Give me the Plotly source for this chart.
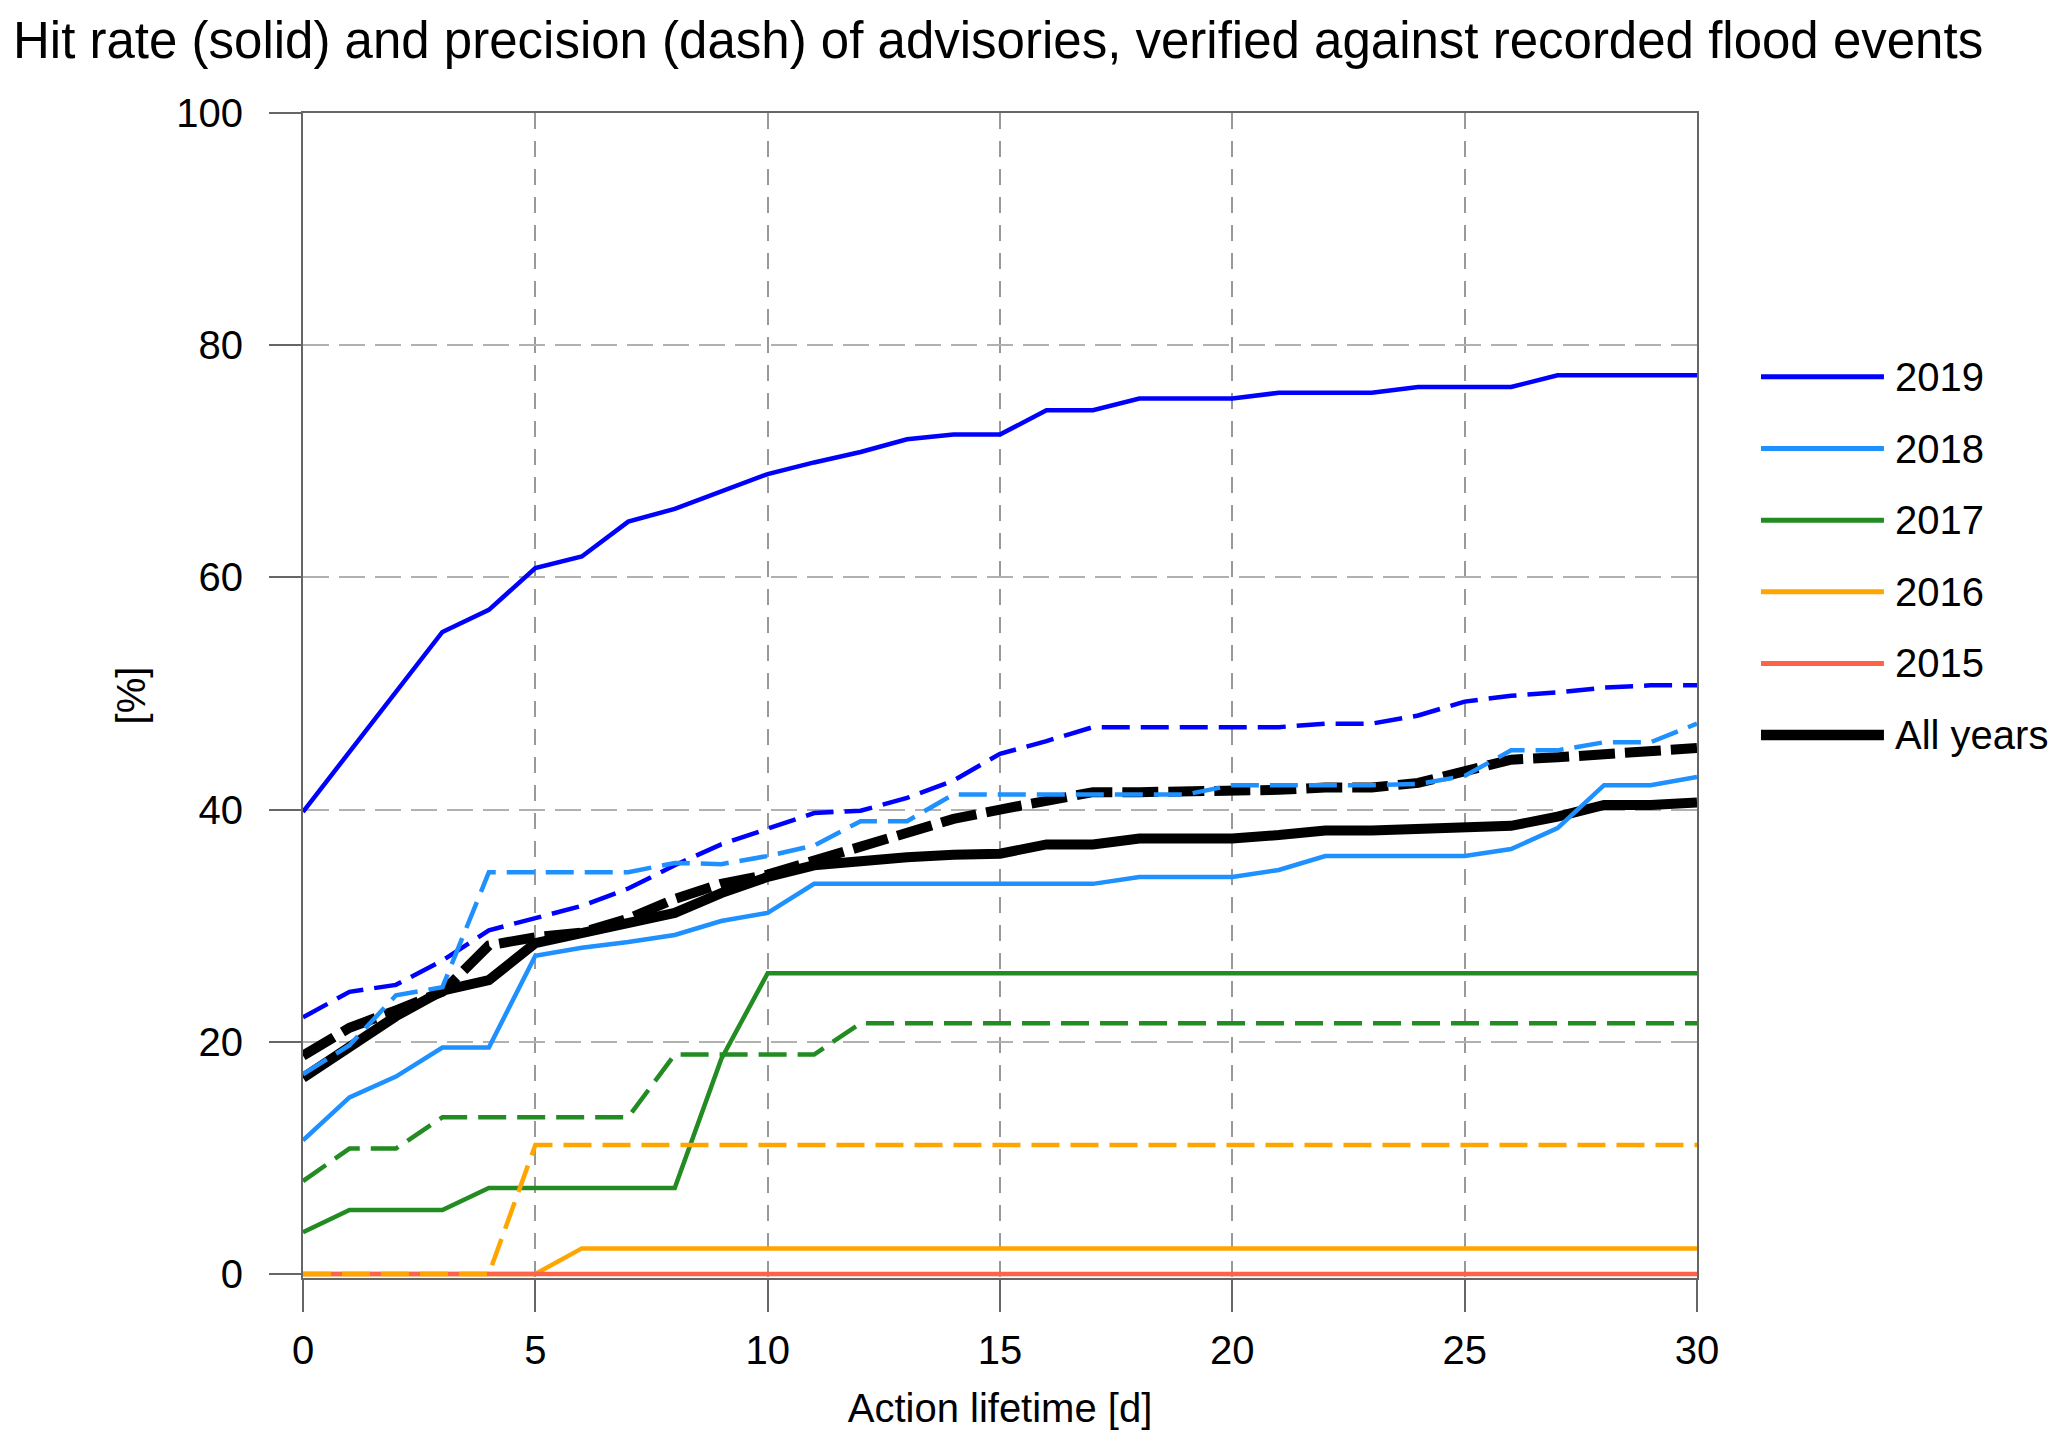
import plotly.graph_objects as go

# ---------------- data ----------------
days = [0, 1, 2, 3, 4, 5, 6, 7, 8, 9, 10, 11, 12, 13, 14, 15, 16, 17, 18, 19, 20,
        21, 22, 23, 24, 25, 26, 27, 28, 29, 30]

hit_2019 = [39.8, 45.0, 50.2, 55.3, 57.2, 60.8, 61.8, 64.8, 65.9, 67.4, 68.9, 69.9, 70.8, 71.9, 72.3,
            72.3, 74.4, 74.4, 75.4, 75.4, 75.4, 75.9, 75.9, 75.9, 76.4, 76.4, 76.4, 77.4, 77.4, 77.4, 77.4]
prec_2019 = [22.1, 24.3, 24.9, 27.0, 29.6, 30.7, 31.7, 33.2, 35.2, 37.0, 38.3, 39.7, 39.9, 41.0, 42.5,
             44.8, 45.9, 47.1, 47.1, 47.1, 47.1, 47.1, 47.4, 47.4, 48.1, 49.3, 49.8, 50.1, 50.5, 50.7, 50.7]

hit_2018 = [11.5, 15.2, 17.0, 19.5, 19.5, 27.4, 28.1, 28.6, 29.2, 30.4, 31.1, 33.6, 33.6, 33.6, 33.6,
            33.6, 33.6, 33.6, 34.2, 34.2, 34.2, 34.8, 36.0, 36.0, 36.0, 36.0, 36.6, 38.4, 42.1, 42.1, 42.8]
prec_2018 = [17.2, 19.7, 24.0, 24.7, 34.6, 34.6, 34.6, 34.6, 35.4, 35.3, 36.0, 36.9, 39.0, 39.0, 41.3,
             41.3, 41.3, 41.3, 41.3, 41.3, 42.1, 42.1, 42.1, 42.1, 42.2, 42.9, 45.1, 45.1, 45.8, 45.8, 47.4]

hit_2017 = [3.6, 5.5, 5.5, 5.5, 7.4, 7.4, 7.4, 7.4, 7.4, 18.5, 25.9, 25.9, 25.9, 25.9, 25.9,
            25.9, 25.9, 25.9, 25.9, 25.9, 25.9, 25.9, 25.9, 25.9, 25.9, 25.9, 25.9, 25.9, 25.9, 25.9, 25.9]
prec_2017 = [8.0, 10.8, 10.8, 13.5, 13.5, 13.5, 13.5, 13.5, 18.9, 18.9, 18.9, 18.9, 21.6, 21.6, 21.6,
             21.6, 21.6, 21.6, 21.6, 21.6, 21.6, 21.6, 21.6, 21.6, 21.6, 21.6, 21.6, 21.6, 21.6, 21.6, 21.6]

hit_2016 = [0.0, 0.0, 0.0, 0.0, 0.0, 0.0, 2.2, 2.2, 2.2, 2.2, 2.2, 2.2, 2.2, 2.2, 2.2,
            2.2, 2.2, 2.2, 2.2, 2.2, 2.2, 2.2, 2.2, 2.2, 2.2, 2.2, 2.2, 2.2, 2.2, 2.2, 2.2]
prec_2016 = [0.0, 0.0, 0.0, 0.0, 0.0, 11.1, 11.1, 11.1, 11.1, 11.1, 11.1, 11.1, 11.1, 11.1, 11.1,
             11.1, 11.1, 11.1, 11.1, 11.1, 11.1, 11.1, 11.1, 11.1, 11.1, 11.1, 11.1, 11.1, 11.1, 11.1, 11.1]

hit_2015 = [0.0, 0.0, 0.0, 0.0, 0.0, 0.0, 0.0, 0.0, 0.0, 0.0, 0.0, 0.0, 0.0, 0.0, 0.0,
            0.0, 0.0, 0.0, 0.0, 0.0, 0.0, 0.0, 0.0, 0.0, 0.0, 0.0, 0.0, 0.0, 0.0, 0.0, 0.0]

hit_all = [16.9, 19.6, 22.2, 24.4, 25.3, 28.5, 29.3, 30.1, 31.1, 32.8, 34.2, 35.2, 35.6, 35.9, 36.1,
           36.2, 37.0, 37.0, 37.5, 37.5, 37.5, 37.8, 38.2, 38.2, 38.4, 38.4, 38.6, 39.4, 40.4, 40.4, 40.6]
prec_all = [18.8, 21.2, 22.7, 24.3, 28.3, 29.0, 29.4, 30.6, 32.3, 33.6, 34.4, 35.6, 36.8, 37.8, 39.2,
            40.0, 40.7, 41.5, 41.5, 41.5, 41.7, 41.7, 41.9, 41.9, 42.3, 43.3, 44.3, 44.5, 44.8, 45.0, 45.3]

series_names = ["2019", "2018", "2017", "2016", "2015", "All years"]
series_colors = ["#0000ff", "#1e90ff", "#228b22", "#ffa500", "#ff6347", "#000000"]
series_widths = [4.5, 4.5, 4.5, 4.5, 4.5, 10]
hit_series = [hit_2019, hit_2018, hit_2017, hit_2016, hit_2015, hit_all]
prec_series = [prec_2019, prec_2018, prec_2017, prec_2016, None, prec_all]

x_ticks = [0, 5, 10, 15, 20, 25, 30]
y_ticks = [0, 20, 40, 60, 80, 100]

FONT = "Liberation Sans, Arial, Helvetica, sans-serif"

fig = go.Figure()

# draw order: All years first, then years (solid), then dashed
order = [5, 0, 1, 2, 3, 4]
for i in order:
    fig.add_trace(go.Scatter(x=days, y=hit_series[i], mode="lines", name=series_names[i],
                             line=dict(color=series_colors[i], width=series_widths[i]),
                             showlegend=False))
for i in order:
    if prec_series[i] is None:
        continue
    dash = "36px,10px" if i == 5 else "28px,11px"
    fig.add_trace(go.Scatter(x=days, y=prec_series[i], mode="lines",
                             name=series_names[i] + " precision",
                             line=dict(color=series_colors[i], width=series_widths[i], dash=dash),
                             showlegend=False))

# manual legend (long line samples like the reference)
leg_y0 = 0.7735
leg_step = 0.0615
for k, name in enumerate(series_names):
    yy = leg_y0 - k * leg_step
    fig.add_shape(type="line", xref="paper", yref="paper", x0=1.0459, x1=1.1341, y0=yy, y1=yy,
                  line=dict(color=series_colors[k], width=series_widths[k] + 0.5))
    fig.add_annotation(xref="paper", yref="paper", x=1.1406, y=yy, text=name, showarrow=False,
                       xanchor="left", yanchor="middle", font=dict(size=40, color="black", family=FONT))

axis_common = dict(showline=True, linecolor="#666666", linewidth=2, mirror=True,
                   ticks="outside", ticklen=32, tickwidth=2, tickcolor="#666666",
                   zeroline=False, tickfont=dict(size=40, color="black", family=FONT))

fig.update_layout(
    width=2067, height=1448,
    margin=dict(l=303, r=370, t=113, b=170, pad=0),
    paper_bgcolor="white", plot_bgcolor="white",
    font=dict(family=FONT, color="black", size=40),
    showlegend=False,
    title=dict(text="Hit rate (solid) and precision (dash) of advisories, verified against recorded flood events",
               x=13 / 2067, xanchor="left", xref="container",
               y=1 - 40 / 1448, yanchor="middle", yref="container",
               font=dict(size=51, color="black", family=FONT)),
    xaxis=dict(range=[0, 30], tickvals=x_ticks, showgrid=True, gridcolor="#999999",
               gridwidth=1.5, griddash="16px,12px", ticklabelstandoff=4,
               title=dict(text="Action lifetime [d]", font=dict(size=40, family=FONT), standoff=23),
               **axis_common),
    yaxis=dict(range=[-0.35, 100], tickvals=y_ticks, showgrid=True, gridcolor="#b0b0b0",
               gridwidth=2, griddash="26px,10px", ticklabelstandoff=18,
               title=dict(text="[%]", font=dict(size=40, family=FONT), standoff=18),
               **axis_common),
)

fig.write_html("out.html", config={"displayModeBar": False},
               post_script="document.body.style.margin='0';")
